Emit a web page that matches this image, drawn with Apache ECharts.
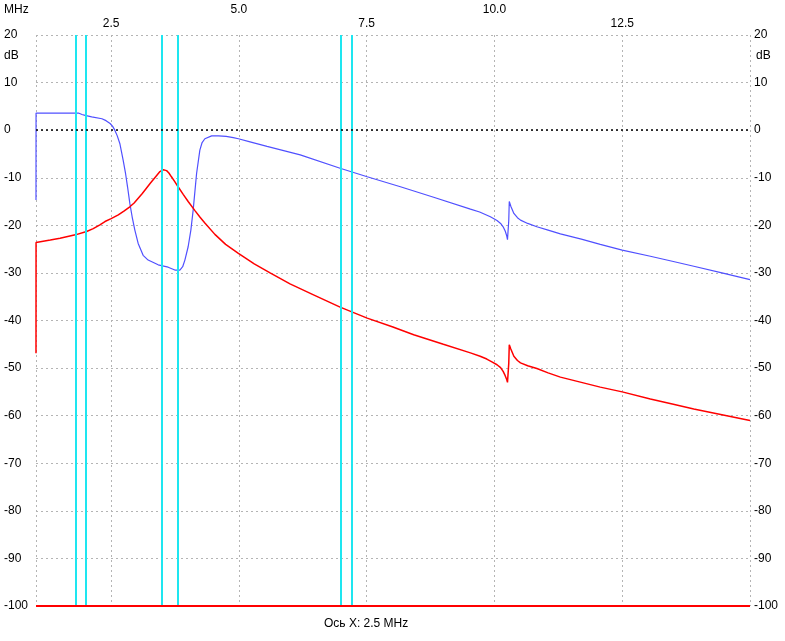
<!DOCTYPE html>
<html>
<head>
<meta charset="utf-8">
<script src="https://cdn.jsdelivr.net/npm/echarts@6/dist/echarts.min.js"></script>
<style>
html,body{margin:0;padding:0;background:#fff;}
#c{width:785px;height:641px;}
</style>
</head>
<body>
<div id="c"></div>
<script>
// X axis (MHz) and Y axis (dB) ranges / ticks
const xMin = 1.03, xMax = 15.0;
const xGridValues = [1.03, 2.5, 5.0, 7.5, 10.0, 12.5, 15.0];
const xLabelsLow = [2.5, 7.5, 12.5];
const xLabelsHigh = [5.0, 10.0];
const yMin = -100, yMax = 20, yStep = 10;
// Cyan marker lines (MHz)
const markerFreqs = [1.8, 2.0, 3.5, 3.8, 7.0, 7.2];

// Blue trace
const blueFreq = [1.03, 1.031, 1.86, 1.93, 1.99, 2.12, 2.32, 2.40, 2.48, 2.53, 2.572, 2.62, 2.67, 2.735, 2.782, 2.821, 2.866, 2.911, 2.964, 3.029, 3.126, 3.224, 3.42, 3.616, 3.747, 3.845, 3.90, 3.943, 4.007, 4.06, 4.105, 4.172, 4.236, 4.28, 4.334, 4.466, 4.6, 4.75, 4.89, 4.99, 5.2, 5.55, 6.20, 6.98, 7.51, 8.16, 8.81, 9.53, 9.71, 9.92, 10.05, 10.12, 10.17, 10.21, 10.24, 10.255, 10.28, 10.29, 10.32, 10.34, 10.38, 10.45, 10.51, 10.65, 10.83, 11.05, 11.29, 11.7, 12.07, 12.5, 13.05, 13.5, 13.90, 14.45, 15.0];
const blueDb = [-14.7, 3.6, 3.6, 3.3, 3.1, 2.8, 2.4, 2.0, 1.4, 0.8, 0.0, -1.2, -2.8, -6.3, -9.1, -11.9, -15.4, -18.2, -21.0, -23.8, -26.3, -27.3, -28.3, -28.8, -29.4, -29.4, -28.7, -27.3, -24.5, -21.0, -16.8, -9.1, -4.2, -2.6, -1.8, -1.2, -1.2, -1.3, -1.55, -1.8, -2.4, -3.4, -5.2, -8.0, -9.8, -11.9, -14.1, -16.6, -17.2, -18.2, -19.0, -19.6, -20.3, -21.2, -22.2, -23.0, -19.0, -15.0, -16.0, -15.8, -17.5, -18.4, -18.9, -19.6, -20.3, -21.0, -21.8, -22.9, -24.0, -25.2, -26.5, -27.6, -28.6, -30.0, -31.4];

// Red trace
const redFreq = [1.03, 1.031, 1.31, 1.50, 1.80, 2.02, 2.15, 2.28, 2.38, 2.50, 2.64, 2.75, 2.866, 2.95, 3.03, 3.11, 3.19, 3.27, 3.355, 3.455, 3.52, 3.585, 3.63, 3.68, 3.745, 3.81, 3.91, 4.007, 4.14, 4.24, 4.334, 4.53, 4.74, 4.99, 5.30, 5.61, 6.0, 6.46, 6.98, 7.51, 8.0, 8.42, 9.0, 9.53, 9.72, 9.85, 9.95, 10.05, 10.12, 10.17, 10.21, 10.24, 10.255, 10.28, 10.29, 10.32, 10.34, 10.38, 10.45, 10.51, 10.65, 10.83, 11.05, 11.29, 11.7, 12.07, 12.5, 13.05, 13.5, 13.90, 14.45, 15.0];
const redDb = [-46.9, -23.6, -23.1, -22.7, -22.0, -21.3, -20.7, -19.9, -19.2, -18.6, -17.8, -17.0, -16.1, -15.3, -14.3, -13.3, -12.2, -11.1, -10.0, -8.7, -8.3, -8.5, -9.0, -9.8, -10.8, -11.9, -13.5, -15.0, -16.9, -18.3, -19.5, -21.9, -24.0, -25.9, -28.1, -30.0, -32.3, -34.6, -37.2, -39.5, -41.3, -43.0, -45.0, -46.8, -47.5, -48.1, -48.7, -49.3, -49.9, -50.7, -51.6, -52.4, -53.0, -49.0, -45.1, -46.0, -45.8, -47.5, -48.4, -48.9, -49.5, -50.1, -51.0, -51.9, -53.0, -54.0, -55.0, -56.5, -57.6, -58.6, -59.8, -61.0];

const FONT = 'Liberation Sans';
const gridStyle = {color: '#b4b4b4', width: 1, type: [2, 3]};

const chart = echarts.init(document.getElementById('c'), null, {renderer: 'canvas'});

function xAxisDef(labels, margin, showSplit) {
  return {
    type: 'value', position: 'top', min: xMin, max: xMax,
    axisLine: {show: false},
    axisTick: {show: false, customValues: xGridValues},
    splitLine: {show: showSplit, lineStyle: gridStyle},
    axisLabel: {
      customValues: labels, margin: margin,
      formatter: v => v.toFixed(1),
      color: '#000', fontFamily: FONT, fontSize: 12
    }
  };
}

function yAxisDef(pos, margin, align) {
  return {
    type: 'value', position: pos, min: yMin, max: yMax, interval: yStep,
    axisLine: {show: false}, axisTick: {show: false},
    splitLine: {show: pos === 'left', lineStyle: gridStyle},
    axisLabel: {margin: margin, align: align, color: '#000', fontFamily: FONT, fontSize: 12}
  };
}

chart.setOption({
  animation: false,
  backgroundColor: '#fff',
  grid: {left: 36, right: 35, top: 35, bottom: 35},
  xAxis: [xAxisDef(xLabelsLow, 5, true), xAxisDef(xLabelsHigh, 19, false)],
  yAxis: [yAxisDef('left', 32, 'left'), yAxisDef('right', 4, 'left')],
  title: {
    text: 'Ось X: 2.5 MHz', left: 319, top: 613,
    textStyle: {fontFamily: FONT, fontSize: 12, fontWeight: 'normal', color: '#000'}
  },
  graphic: [
    {type: 'text', left: 4, top: 4, style: {text: 'MHz', font: '12px "Liberation Sans"', fill: '#000'}},
    {type: 'text', left: 4, top: 50, style: {text: 'dB', font: '12px "Liberation Sans"', fill: '#000'}},
    {type: 'text', left: 756, top: 50, style: {text: 'dB', font: '12px "Liberation Sans"', fill: '#000'}}
  ],
  series: [
    {
      type: 'line', name: 'ref', data: [], xAxisIndex: 0, yAxisIndex: 0,
      markLine: {
        silent: true, symbol: 'none', label: {show: false}, animation: false,
        data: [
          ...markerFreqs.map(f => ({xAxis: f, lineStyle: {color: '#1ee6f0', width: 2, type: 'solid'}})),
          {yAxis: 0, lineStyle: {color: '#000', width: 1.5, type: [2, 3]}},
          {yAxis: yMin, lineStyle: {color: '#ff0000', width: 2, type: 'solid'}}
        ]
      }
    },
    {
      type: 'line', name: 'blue', xAxisIndex: 0, yAxisIndex: 0,
      data: blueFreq.map((f, i) => [f, blueDb[i]]),
      showSymbol: false, symbol: 'none',
      lineStyle: {color: '#5050ff', width: 1.2}
    },
    {
      type: 'line', name: 'red', xAxisIndex: 0, yAxisIndex: 0,
      data: redFreq.map((f, i) => [f, redDb[i]]),
      showSymbol: false, symbol: 'none',
      lineStyle: {color: '#ff0000', width: 1.5}
    }
  ]
});
</script>
</body>
</html>
